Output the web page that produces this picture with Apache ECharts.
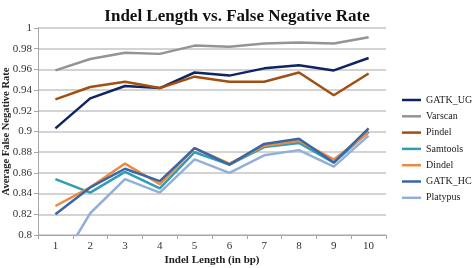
<!DOCTYPE html>
<html>
<head>
<meta charset="utf-8">
<script src="https://cdn.jsdelivr.net/npm/echarts@6/dist/echarts.min.js"></script>
<style>
html,body{margin:0;padding:0;background:#fff;}
#chart{width:472px;height:268px;}
</style>
</head>
<body>
<div id="chart"></div>
<script>
var lengths = ['1','2','3','4','5','6','7','8','9','10'];
var gatkUg   = [0.903, 0.932, 0.944, 0.942, 0.957, 0.954, 0.961, 0.964, 0.959, 0.971];
var varscan  = [0.959, 0.970, 0.976, 0.975, 0.983, 0.982, 0.985, 0.986, 0.985, 0.991];
var pindel   = [0.931, 0.943, 0.948, 0.942, 0.953, 0.948, 0.948, 0.957, 0.935, 0.956];
var samtools = [0.854, 0.841, 0.861, 0.845, 0.880, 0.868, 0.885, 0.889, 0.870, 0.900];
var dindel   = [0.828, 0.846, 0.869, 0.849, 0.884, 0.869, 0.886, 0.891, 0.873, 0.899];
var gatkHc   = [0.820, 0.846, 0.864, 0.852, 0.884, 0.868, 0.888, 0.893, 0.870, 0.903];
var platypus = [0.765, 0.821, 0.854, 0.841, 0.873, 0.860, 0.877, 0.882, 0.866, 0.896];

var serif = '"Liberation Serif", "DejaVu Serif", serif';

function line(name, data, color){
	return {
		name: name,
		type: 'line',
		data: data,
		symbol: 'none',
		clip: true,
		lineStyle: {width: 2.5, color: color},
		itemStyle: {color: color}
	};
}

var myChart = echarts.init(document.getElementById('chart'));
var option = {
	animation: false,
	title: {
		text: 'Indel Length vs. False Negative Rate',
		left: 232,
		textAlign: 'center',
		top: 3,
		textStyle: {fontFamily: serif, fontWeight: 'bold', fontSize: 17, color: '#111'}
	},
	legend: {
		orient: 'vertical',
		left: 397,
		top: 89,
		icon: 'rect',
		itemWidth: 19,
		itemHeight: 2.5,
		itemGap: 4.3,
		textStyle: {fontFamily: serif, fontSize: 10, lineHeight: 12, color: '#222'},
		data: ['GATK_UG','Varscan','Pindel','Samtools','Dindel','GATK_HC','Platypus']
	},
	grid: {left: 38, right: 86, top: 28, bottom: 33, outerBoundsMode: 'none'},
	xAxis: {
		type: 'category',
		data: lengths,
		name: 'Indel Length (in bp)',
		nameLocation: 'middle',
		nameGap: 20,
		nameMoveOverlap: false,
		nameTextStyle: {fontFamily: serif, fontWeight: 'bold', fontSize: 11, color: '#222'},
		axisLine: {lineStyle: {color: '#a6a6a6', width: 1}},
		axisTick: {show: true, length: 4, lineStyle: {color: '#a6a6a6'}},
		axisLabel: {fontFamily: serif, fontSize: 11, color: '#333', margin: 6}
	},
	yAxis: {
		type: 'value',
		min: 0.8,
		max: 1,
		interval: 0.02,
		name: 'Average False Negative Rate',
		nameLocation: 'middle',
		nameGap: 26.5,
		nameMoveOverlap: false,
		nameTextStyle: {fontFamily: serif, fontWeight: 'bold', fontSize: 10.5, color: '#222'},
		axisLine: {show: true, lineStyle: {color: '#a6a6a6', width: 1}},
		axisTick: {show: true, length: 4, lineStyle: {color: '#a6a6a6'}},
		axisLabel: {fontFamily: serif, fontSize: 11, color: '#333', margin: 6,
			formatter: function(v){ return String(parseFloat(v.toFixed(2))); }},
		splitLine: {lineStyle: {color: '#c4c4c4', width: 1.5}}
	},
	series: [
		line('GATK_UG', gatkUg, '#0f2460'),
		line('Varscan', varscan, '#949494'),
		line('Pindel', pindel, '#a24f12'),
		line('Samtools', samtools, '#2f9db3'),
		line('Dindel', dindel, '#ee8a3e'),
		line('GATK_HC', gatkHc, '#3866a8'),
		line('Platypus', platypus, '#93afd8')
	]
};
myChart.setOption(option);
</script>
</body>
</html>
